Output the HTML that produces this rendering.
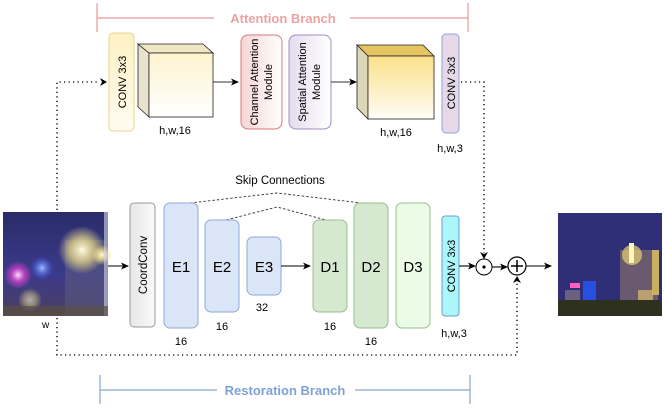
<!DOCTYPE html>
<html><head><style>
html,body{margin:0;padding:0;background:#fff;}
svg{display:block;font-family:"Liberation Sans",Arial,sans-serif;}
</style></head><body>
<svg width="665" height="409" viewBox="0 0 665 409" xmlns="http://www.w3.org/2000/svg">
<defs>
<marker id="ah" markerWidth="8" markerHeight="8" refX="7" refY="4" orient="auto" markerUnits="userSpaceOnUse"><path d="M0,0.5 L8,4 L0,7.5 L2,4 Z" fill="#000"/></marker>
<linearGradient id="cy" x1="0" y1="0" x2="0" y2="1"><stop offset="0" stop-color="#fdf1c4"/><stop offset="1" stop-color="#fefbf0"/></linearGradient>
<linearGradient id="c1f" x1="0" y1="0" x2="0" y2="1"><stop offset="0" stop-color="#fdf3cf"/><stop offset="1" stop-color="#ffffff"/></linearGradient>
<linearGradient id="c2f" x1="0" y1="0" x2="0" y2="1"><stop offset="0" stop-color="#fbe08a"/><stop offset="1" stop-color="#fffdf5"/></linearGradient>
<linearGradient id="ch" x1="0" y1="0" x2="1" y2="0"><stop offset="0" stop-color="#f6d4d4"/><stop offset="1" stop-color="#ffffff"/></linearGradient>
<linearGradient id="sp" x1="0" y1="0" x2="1" y2="0"><stop offset="0" stop-color="#e4dcf0"/><stop offset="1" stop-color="#ffffff"/></linearGradient>
<linearGradient id="cc" x1="0" y1="0" x2="1" y2="0"><stop offset="0" stop-color="#e6e6e6"/><stop offset="1" stop-color="#fafafa"/></linearGradient>
<linearGradient id="sky" x1="0" y1="0" x2="0" y2="1"><stop offset="0" stop-color="#2a2c6a"/><stop offset="0.6" stop-color="#3b3a8a"/><stop offset="1" stop-color="#4a4060"/></linearGradient>
<radialGradient id="glowW"><stop offset="0" stop-color="#fffbe0"/><stop offset="0.5" stop-color="#f2e38a" stop-opacity="0.7"/><stop offset="1" stop-color="#f2e38a" stop-opacity="0"/></radialGradient>
<radialGradient id="glowP"><stop offset="0" stop-color="#ffe0ff"/><stop offset="0.5" stop-color="#e040d0" stop-opacity="0.7"/><stop offset="1" stop-color="#e040d0" stop-opacity="0"/></radialGradient>
<radialGradient id="glowB"><stop offset="0" stop-color="#a0c0ff"/><stop offset="1" stop-color="#3050ff" stop-opacity="0"/></radialGradient>
</defs>

<g stroke="#e59a9a" stroke-width="1.2" fill="none">
<line x1="97" y1="3" x2="97" y2="32"/><line x1="468" y1="3" x2="468" y2="32"/>
<line x1="97" y1="18" x2="214" y2="18"/><line x1="350" y1="18" x2="468" y2="18"/>
</g>
<text x="283" y="23" font-size="13" font-weight="bold" fill="#eba3a3" text-anchor="middle">Attention Branch</text>

<rect x="109" y="33" width="25" height="98" rx="4" fill="url(#cy)" stroke="#e8d48a"/>
<text transform="translate(126,82) rotate(-90)" font-size="11" text-anchor="middle">CONV 3x3</text>

<polygon points="138,44 149,53 149,117 138,107" fill="#e8e2cc" stroke="#222" stroke-width="0.8"/>
<polygon points="138,44 203,44 213,53 149,53" fill="#efe6c4" stroke="#222" stroke-width="0.8"/>
<rect x="149" y="53" width="64" height="64" fill="url(#c1f)" stroke="#222" stroke-width="0.8"/>
<text x="175" y="134" font-size="11" text-anchor="middle">h,w,16</text>
<line x1="213" y1="82" x2="238" y2="82" stroke="#333" stroke-width="1" marker-end="url(#ah)"/>

<rect x="241" y="35" width="41" height="94" rx="7" fill="url(#ch)" stroke="#d97979"/>
<text transform="translate(258,82) rotate(-90)" font-size="11" text-anchor="middle">Channel Attention</text>
<text transform="translate(272,82) rotate(-90)" font-size="11" text-anchor="middle">Module</text>
<rect x="289" y="35" width="42" height="94" rx="7" fill="url(#sp)" stroke="#a08cc4"/>
<text transform="translate(306,82) rotate(-90)" font-size="11" text-anchor="middle">Spatial Attention</text>
<text transform="translate(320,82) rotate(-90)" font-size="11" text-anchor="middle">Module</text>
<line x1="331" y1="82" x2="356" y2="82" stroke="#333" stroke-width="1" marker-end="url(#ah)"/>

<polygon points="357,45 423,45 434,56 368,56" fill="#e6c460" stroke="#222" stroke-width="0.8"/>
<polygon points="357,45 368,56 368,119 357,108" fill="#ddd6b8" stroke="#222" stroke-width="0.8"/>
<rect x="368" y="56" width="66" height="63" fill="url(#c2f)" stroke="#222" stroke-width="0.8"/>
<text x="396" y="136" font-size="11" text-anchor="middle">h,w,16</text>

<rect x="442" y="34" width="17" height="99" rx="4" fill="#e6d8e6" stroke="#8ea6d6"/>
<text transform="translate(455,83) rotate(-90)" font-size="11" text-anchor="middle">CONV 3x3</text>
<text x="450" y="152" font-size="11" text-anchor="middle">h,w,3</text>

<g stroke="#222" stroke-width="1.6" stroke-dasharray="1.2,3.3" fill="none">
<polyline points="57,210 57,82 100,82"/>
<polyline points="57,318 57,355 517,355 517,283"/>
<polyline points="461,82 484,82 484,253"/>
</g>
<path d="M100,78 L107,82 L100,86 L102,82 Z" fill="#000"/>
<path d="M480,252 L484,259 L488,252 L484,254 Z" fill="#000"/>
<path d="M513,283 L517,276 L521,283 L517,281 Z" fill="#000"/>

<text x="280" y="184" font-size="11.5" text-anchor="middle">Skip Connections</text>
<g stroke="#333" stroke-width="0.9" stroke-dasharray="2.5,2" fill="none">
<polyline points="181,204 277,193 370,204"/>
<polyline points="222,221 277,207 330,221"/>
</g>

<rect x="3" y="212" width="105" height="104" fill="url(#sky)"/>
<rect x="65" y="240" width="40" height="76" fill="#5a5880" opacity="0.6"/>
<circle cx="82" cy="250" r="24" fill="url(#glowW)"/>
<circle cx="102" cy="255" r="10" fill="url(#glowW)"/>
<circle cx="18" cy="275" r="14" fill="url(#glowP)"/>
<circle cx="42" cy="268" r="12" fill="url(#glowB)"/>
<circle cx="30" cy="300" r="12" fill="url(#glowW)" opacity="0.6"/>
<rect x="104" y="212" width="4" height="104" fill="#d8d8e8" opacity="0.6"/>
<rect x="3" y="306" width="105" height="10" fill="#5a5040" opacity="0.7"/>
<text x="42" y="328" font-size="10">w</text>
<line x1="108" y1="266" x2="128" y2="266" stroke="#000" stroke-width="1.1" marker-end="url(#ah)"/>

<rect x="130" y="203" width="25" height="124" rx="4" fill="url(#cc)" stroke="#9a9a9a"/>
<text transform="translate(147,265) rotate(-90)" font-size="11.5" text-anchor="middle">CoordConv</text>
<rect x="164" y="203" width="34" height="125" rx="6" fill="#dae6f8" stroke="#8eaad6"/>
<text x="181" y="272" font-size="15" text-anchor="middle">E1</text>
<text x="181" y="345" font-size="11" text-anchor="middle">16</text>
<rect x="205" y="220" width="34" height="92" rx="6" fill="#dae6f8" stroke="#8eaad6"/>
<text x="222" y="272" font-size="15" text-anchor="middle">E2</text>
<text x="222" y="330" font-size="11" text-anchor="middle">16</text>
<rect x="247" y="237" width="34" height="58" rx="6" fill="#dae6f8" stroke="#8eaad6"/>
<text x="264" y="272" font-size="15" text-anchor="middle">E3</text>
<text x="262" y="311" font-size="11" text-anchor="middle">32</text>
<line x1="281" y1="266" x2="310" y2="266" stroke="#000" stroke-width="1.1" marker-end="url(#ah)"/>
<rect x="313" y="220" width="34" height="92" rx="6" fill="#d5e8d0" stroke="#98c08a"/>
<text x="330" y="272" font-size="15" text-anchor="middle">D1</text>
<text x="330" y="330" font-size="11" text-anchor="middle">16</text>
<rect x="354" y="203" width="34" height="125" rx="6" fill="#d5e8d0" stroke="#98c08a"/>
<text x="371" y="272" font-size="15" text-anchor="middle">D2</text>
<text x="371" y="345" font-size="11" text-anchor="middle">16</text>
<rect x="396" y="203" width="34" height="125" rx="6" fill="#eafbe6" stroke="#98c08a"/>
<text x="413" y="272" font-size="15" text-anchor="middle">D3</text>
<rect x="442" y="216" width="17" height="100" rx="3" fill="#aaf6f8" stroke="#6f9ed0"/>
<text transform="translate(455,266) rotate(-90)" font-size="11" text-anchor="middle">CONV 3x3</text>
<text x="454" y="337" font-size="11" text-anchor="middle">h,w,3</text>

<line x1="459" y1="266" x2="475" y2="266" stroke="#000" stroke-width="1.1" marker-end="url(#ah)"/>
<circle cx="484" cy="267" r="8" fill="#fff" stroke="#000"/>
<circle cx="484" cy="267" r="1.6" fill="#000"/>
<line x1="492" y1="267" x2="507" y2="267" stroke="#000" stroke-width="1.1" marker-end="url(#ah)"/>
<circle cx="517" cy="266" r="9" fill="#fff" stroke="#000" stroke-width="1.2"/>
<line x1="511" y1="266" x2="523" y2="266" stroke="#000" stroke-width="1.5"/>
<line x1="517" y1="260" x2="517" y2="272" stroke="#000" stroke-width="1.5"/>
<line x1="526" y1="266" x2="551" y2="266" stroke="#000" stroke-width="1.1" marker-end="url(#ah)"/>

<rect x="558" y="213" width="104" height="103" fill="#2f2f78"/>
<rect x="620" y="250" width="38" height="52" fill="#6a5a70"/>
<circle cx="632" cy="255" r="10" fill="#e8d070" opacity="0.7"/>
<rect x="629" y="243" width="5" height="20" fill="#fff5c0"/>
<rect x="652" y="250" width="7" height="45" fill="#c8b060"/>
<rect x="583" y="281" width="13" height="25" fill="#2850e0"/>
<rect x="570" y="283" width="10" height="5" fill="#ff60c0"/>
<rect x="565" y="290" width="15" height="20" fill="#6a6080"/>
<rect x="638" y="290" width="15" height="15" fill="#d0b070" opacity="0.8"/>
<rect x="558" y="300" width="104" height="16" fill="#2e3020"/>

<g stroke="#8aa6cc" stroke-width="1.2" fill="none">
<line x1="100" y1="375" x2="100" y2="404"/><line x1="470" y1="375" x2="470" y2="404"/>
<line x1="100" y1="390" x2="217" y2="390"/><line x1="355" y1="390" x2="470" y2="390"/>
</g>
<text x="285" y="395" font-size="13" font-weight="bold" fill="#7ea2d8" text-anchor="middle">Restoration Branch</text>
</svg>
</body></html>
